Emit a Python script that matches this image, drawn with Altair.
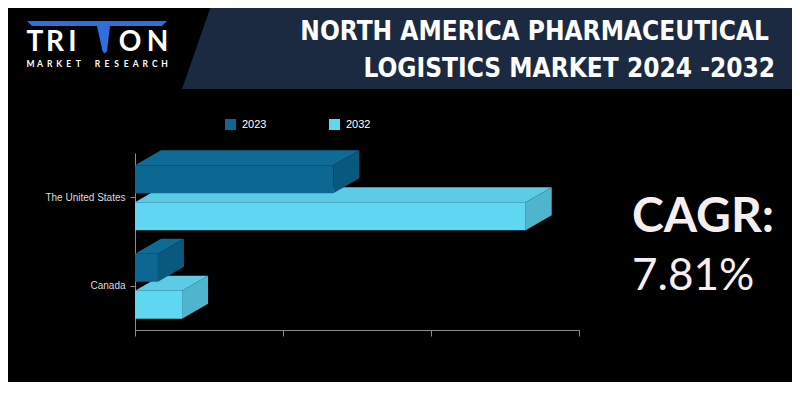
import altair as alt
import pandas as pd

# ---------------- data ----------------
countries = ["The United States", "Canada"]
years = ["2023", "2032"]
values_2023 = [13.4, 1.55]
values_2032 = [26.4, 3.18]
x_ticks = [0, 10, 20, 30]

title_lines = ["NORTH AMERICA PHARMACEUTICAL", "LOGISTICS MARKET 2024 -2032"]
cagr_label = "CAGR:"
cagr_value = "7.81%"
logo_word = "TRITON"
logo_sub = "MARKET RESEARCH"

# ---------------- layout / style ----------------
W, H = 444, 177              # plot area in px
X_MAX = 30
PX_PER_UNIT = W / X_MAX
STEP = H / len(countries)
BAR_H = 28
OFFSETS = {"2023": -32, "2032": 5}   # top of each front face relative to band centre
DEPTH_X = 26 / PX_PER_UNIT   # 3-D depth in data units
DEPTH_Y = 15                 # 3-D depth in px (y scale is pixel-like)

FRONT = {"2023": "#0c6792", "2032": "#5fd7f2"}
TOP = {"2023": "#0d6b96", "2032": "#5ccbe6"}
SIDE = {"2023": "#09587e", "2032": "#4fb4cd"}
NAVY = "#1b2a41"
LOGO_BLUE = "#2f6fdc"

value_map = {"2023": values_2023, "2032": values_2032}

front_rows, top_rows, side_rows = [], [], []
for ci, c in enumerate(countries):
    centre = STEP * (ci + 0.5)
    for yr in years:
        v = value_map[yr][ci]
        t = centre + OFFSETS[yr]
        b = t + BAR_H
        bid = f"{c}-{yr}"
        front_rows.append(dict(country=c, year=yr, x0=0, x1=v, y0=t, y1=b))
        top_rows += [dict(bar=bid, year=yr, y=t, xa=0, xb=v),
                     dict(bar=bid, year=yr, y=t - DEPTH_Y, xa=DEPTH_X, xb=v + DEPTH_X)]
        side_rows += [dict(bar=bid, year=yr, x=v, ya=t, yb=b),
                      dict(bar=bid, year=yr, x=v + DEPTH_X, ya=t - DEPTH_Y, yb=b - DEPTH_Y)]

front_df = pd.DataFrame(front_rows)
top_df = pd.DataFrame(top_rows)
side_df = pd.DataFrame(side_rows)

xscale = alt.Scale(domain=[0, X_MAX], nice=False, zero=True)
yscale = alt.Scale(domain=[0, H], reverse=True, nice=False, zero=True)

centres = [STEP * (i + 0.5) for i in range(len(countries))]
label_expr = "[" + ",".join("'" + c + "'" for c in countries) + f"][floor(datum.value / {STEP})]"

xaxis = alt.Axis(values=x_ticks, labels=False, ticks=True, tickSize=6, domain=True,
                 grid=False, title=None, domainColor="#8c8c8c", tickColor="#8c8c8c")
yaxis = alt.Axis(values=centres, labelExpr=label_expr, tickSize=5, labelPadding=5,
                 grid=False, title=None, domainColor="#8c8c8c", tickColor="#8c8c8c",
                 labelColor="#dcdcdc", labelFont="Liberation Sans", labelFontSize=10)

color = alt.Color("year:N", scale=alt.Scale(domain=years, range=[FRONT[y] for y in years]),
                  legend=alt.Legend(orient="none", legendX=90, legendY=-34, direction="horizontal",
                                    title=None, symbolType="square", symbolSize=121,
                                    symbolStrokeWidth=0, symbolOpacity=1, labelColor="#ffffff",
                                    labelFont="Liberation Sans", labelFontSize=11, labelOffset=6,
                                    columnPadding=62, padding=0))


def bar_layers(yr, first):
    f = alt.Chart(front_df[front_df.year == yr]).mark_rect().encode(
        x=alt.X("x0:Q", scale=xscale, axis=xaxis if first else alt.Axis(title=None)),
        x2="x1:Q",
        y=alt.Y("y0:Q", scale=yscale, axis=yaxis if first else alt.Axis(title=None)),
        y2="y1:Q",
        color=color,
    )
    t = alt.Chart(top_df[top_df.year == yr]).mark_area(orient="horizontal", color=TOP[yr], opacity=1).encode(
        y=alt.Y("y:Q", scale=yscale, title=None),
        x=alt.X("xa:Q", scale=xscale, stack=None, title=None),
        x2="xb:Q",
        detail="bar:N",
    )
    s = alt.Chart(side_df[side_df.year == yr]).mark_area(orient="vertical", color=SIDE[yr], opacity=1).encode(
        x=alt.X("x:Q", scale=xscale, title=None),
        y=alt.Y("ya:Q", scale=yscale, stack=None, title=None),
        y2="yb:Q",
        detail="bar:N",
    )
    return [f, t, s]


one = alt.Data(values=[{"a": 1}])


def deco_text(text, x, y, **kw):
    return alt.Chart(one).mark_text(text=text, **kw).encode(x=alt.value(x), y=alt.value(y))


def deco_shape(path, x, y, size, col):
    return alt.Chart(one).mark_point(shape=path, filled=True, color=col, opacity=1,
                                     strokeWidth=0, size=size).encode(x=alt.value(x), y=alt.value(y))


# plot-area origin sits at reference pixel (135, 153)
banner = deco_shape("M-0.567,-0.109L0.594,-0.109L0.594,0.089L-0.636,0.089Z", 365, -108.5, 1000000, NAVY)
logo_bar = deco_shape("M-0.70,-0.17L0.70,-0.17L0.65,-0.12L0.13,-0.12L0.10,0.13L0.075,0.155"
                      "L0.055,0.13L0.00,-0.12L-0.65,-0.12Z", -38, -115, 40000, LOGO_BLUE)

title_font = "'Liberation Sans Narrow', 'DejaVu Sans Condensed', sans-serif"
titles = [
    deco_text(title_lines[0], 634, -113, align="right", baseline="alphabetic", font=title_font,
              fontWeight="bold", fontSize=26, color="#ffffff"),
    deco_text(title_lines[1], 640, -76, align="right", baseline="alphabetic", font=title_font,
              fontWeight="bold", fontSize=26, color="#ffffff"),
]

logo_x = [-100, -80, -62.5, None, -5, 22.5]
logo_letters = [deco_text(ch, lx, -102, align="center", baseline="alphabetic", font="Lato",
                          fontWeight="bold", fontSize=28, color="#ffffff")
                for ch, lx in zip(logo_word, logo_x) if lx is not None]
sub_letters = [deco_text(ch, -104.5 + i * 9.57, -86.5, align="center", baseline="alphabetic", font="Lato",
                         fontWeight="bold", fontSize=8.5, color="#ffffff")
               for i, ch in enumerate(logo_sub) if ch != " "]

cagr = [
    deco_text(cagr_label, 497, 79, align="left", baseline="alphabetic", font="Lato",
              fontWeight="bold", fontSize=48, color="#f7efef"),
    deco_text(cagr_value, 497, 137, align="left", baseline="alphabetic", font="Lato",
              fontWeight="normal", fontSize=44, color="#f7efef"),
]

layers = bar_layers("2032", True) + bar_layers("2023", False)
chart = alt.layer(banner, logo_bar, *titles, *logo_letters, *sub_letters, *cagr, *layers).properties(
    width=W, height=H,
    autosize=alt.AutoSizeParams(type="none"),
    padding={"left": 127, "top": 145, "right": 213, "bottom": 52},
).configure(background="#000000").configure_view(stroke=None)

chart.save("out.html", embed_options={"renderer": "svg", "actions": False})
